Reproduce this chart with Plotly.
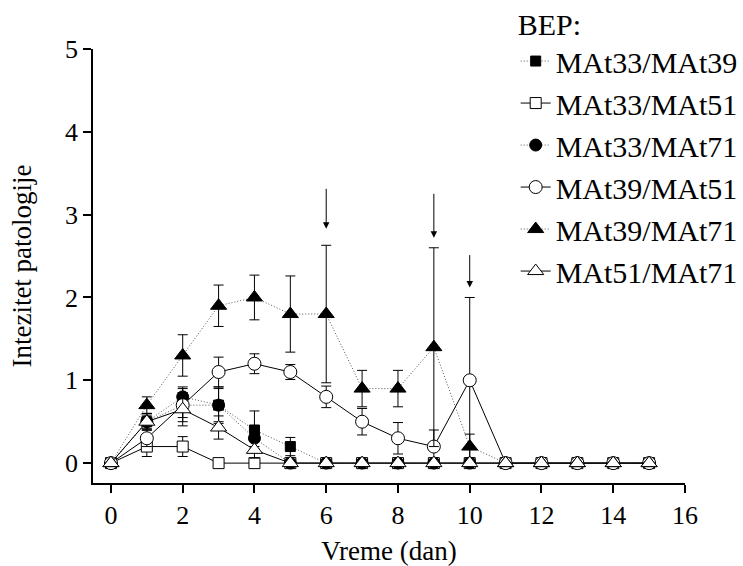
import plotly.graph_objects as go

days = list(range(16))

names = ["MAt33/MAt39", "MAt33/MAt51", "MAt33/MAt71",
         "MAt39/MAt51", "MAt39/MAt71", "MAt51/MAt71"]

m33_39 = [0, 0.5, 0.7, 0.7, 0.4, 0.2, 0, 0, 0, 0, 0, 0, 0, 0, 0, 0]
e33_39 = [0, 0.1, 0.15, 0.2, 0.23, 0.11, 0, 0, 0, 0, 0, 0, 0, 0, 0, 0]

m33_51 = [0, 0.2, 0.2, 0, 0, 0, 0, 0, 0, 0, 0, 0, 0, 0, 0, 0]
e33_51 = [0, 0.12, 0.12, 0, 0, 0, 0, 0, 0, 0, 0, 0, 0, 0, 0, 0]

m33_71 = [0, 0.5, 0.8, 0.7, 0.3, 0, 0, 0, 0, 0, 0, 0, 0, 0, 0, 0]
e33_71 = [0, 0.1, 0.12, 0.22, 0.1, 0, 0, 0, 0, 0, 0, 0, 0, 0, 0, 0]

m39_51 = [0, 0.3, 0.7, 1.1, 1.2, 1.1, 0.8, 0.5, 0.3, 0.2, 1.0, 0, 0, 0, 0, 0]
e39_51 = [0, 0.1, 0.2, 0.18, 0.12, 0.09, 0.13, 0.16, 0.19, 0.2, 1.0, 0, 0, 0, 0, 0]

m39_71 = [0, 0.7, 1.3, 1.9, 2.0, 1.8, 1.8, 0.9, 0.9, 1.4, 0.2, 0, 0, 0, 0, 0]
e39_71 = [0, 0.1, 0.25, 0.25, 0.27, 0.46, 0.83, 0.22, 0.22, 1.2, 0.15, 0, 0, 0, 0, 0]

m51_71 = [0, 0.5, 0.65, 0.43, 0.16, 0, 0, 0, 0, 0, 0, 0, 0, 0, 0, 0]
e51_71 = [0, 0.08, 0.2, 0.14, 0.1, 0, 0, 0, 0, 0, 0, 0, 0, 0, 0, 0]

arrow_days = [6, 9, 10]
arrow_tips = [2.83, 2.72, 2.12]
arrow_tails = [3.33, 3.27, 2.53]

x_ticks = [0, 2, 4, 6, 8, 10, 12, 14, 16]
y_ticks = [0, 1, 2, 3, 4, 5]

series = [
    (names[0], m33_39, e33_39, "square", "black", "dot", 10),
    (names[1], m33_51, e33_51, "square", "white", "solid", 11),
    (names[2], m33_71, e33_71, "circle", "black", "dot", 12),
    (names[3], m39_51, e39_51, "circle", "white", "solid", 13),
    (names[4], m39_71, e39_71, "triangle-up", "black", "dot", 14),
    (names[5], m51_71, e51_71, "triangle-up", "white", "solid", 14),
]

FONT = "Liberation Serif"

fig = go.Figure()
for i, (nm, ys, es, sym, fill, dash, size) in enumerate(series):
    if dash == "dot":
        line = dict(color="#555555", width=1, dash="1px,2px")
    else:
        line = dict(color="black", width=1)
    fig.add_trace(go.Scatter(
        x=days, y=ys, name=nm, mode="lines+markers",
        legendgroup=str(i),
        line=line,
        marker=dict(symbol=sym, size=size,
                    color=fill, line=dict(color="black", width=1)),
        error_y=dict(type="data", array=es, visible=True,
                     color="black", thickness=1, width=5),
    ))

for d, tip, tail in zip(arrow_days, arrow_tips, arrow_tails):
    fig.add_annotation(x=d, y=tip, ax=d, ay=tail, axref="x", ayref="y",
                       xref="x", yref="y", showarrow=True, arrowhead=2,
                       arrowsize=1.3, arrowwidth=1, arrowcolor="black", text="")

fig.update_layout(
    width=743, height=566,
    margin=dict(l=93, r=58, t=49, b=83, autoexpand=False),
    paper_bgcolor="white", plot_bgcolor="white",
    font=dict(family=FONT, size=26, color="black"),
    showlegend=True,
    legend=dict(
        x=0.714, y=1.122, xanchor="left", yanchor="top",
        font=dict(family=FONT, size=30, color="black"),
        title=dict(text="BEP:", font=dict(family=FONT, size=30, color="black")),
        bgcolor="rgba(0,0,0,0)", tracegroupgap=0,
        maxheight=600,
    ),
    xaxis=dict(
        range=[-0.5, 16], tickvals=x_ticks, ticktext=[str(v) for v in x_ticks],
        showline=True, linecolor="black", linewidth=1.5, mirror=False,
        ticks="outside", ticklen=8, tickwidth=1.5, tickcolor="black",
        showgrid=False, zeroline=False,
        tickfont=dict(family=FONT, size=26, color="black"),
        title=dict(text="Vreme (dan)", font=dict(family=FONT, size=27, color="black"), standoff=22),
    ),
    yaxis=dict(
        range=[-0.24, 5], tickvals=y_ticks, ticktext=[str(v) for v in y_ticks],
        showline=True, linecolor="black", linewidth=1.5, mirror=False,
        ticks="outside", ticklen=8, tickwidth=1.5, tickcolor="black",
        showgrid=False, zeroline=False,
        tickfont=dict(family=FONT, size=26, color="black"),
        title=dict(text="Intezitet patologije", font=dict(family=FONT, size=27, color="black"), standoff=26),
    ),
)

fig.write_html("out.html")
